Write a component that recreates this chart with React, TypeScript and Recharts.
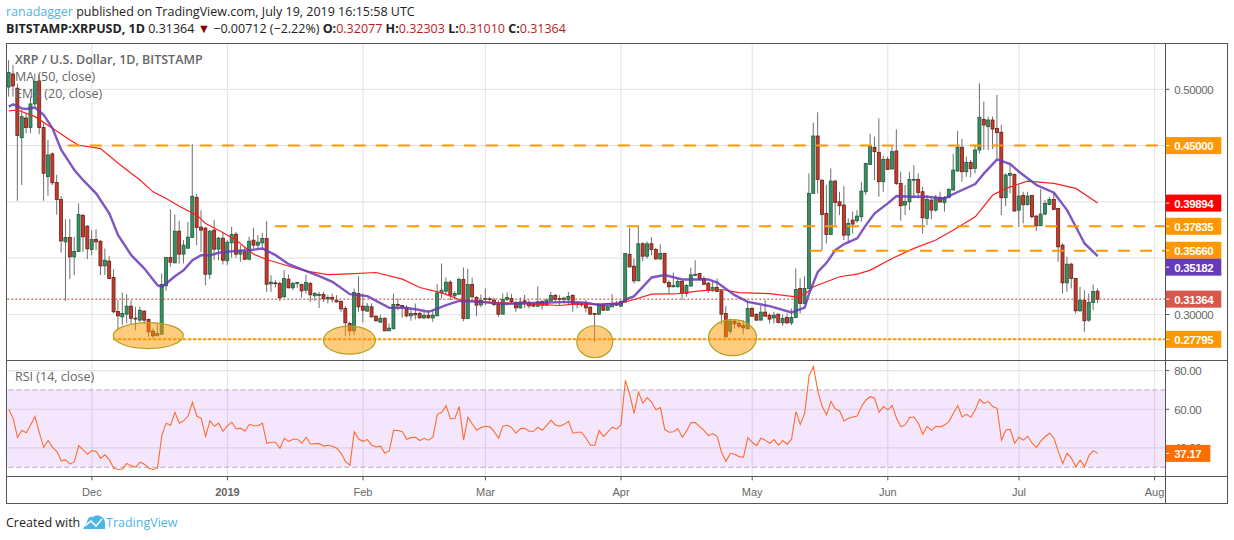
import {
  ComposedChart,
  Bar,
  Line,
  XAxis,
  YAxis,
  CartesianGrid,
  ReferenceLine,
  ReferenceArea,
  ReferenceDot,
} from "recharts";

// candle values, one per day from 12 Nov 2018 to 19 Jul 2019
const OPENS = [
  0.502,0.5136,0.501,0.457,0.4745,0.466,0.487,0.5074,0.466,0.4224,
  0.4426,0.4172,0.4021,0.3645,0.3684,0.3512,0.356,0.388,0.3784,0.3577,
  0.3666,0.3651,0.3432,0.3474,0.3329,0.3027,0.2979,0.3003,0.3074,0.2967,
  0.295,0.303,0.2956,0.2852,0.2811,0.2825,0.3255,0.3506,0.3459,0.374,
  0.3536,0.3589,0.3684,0.4039,0.3776,0.3767,0.3358,0.3749,0.358,0.3678,
  0.3477,0.3636,0.3713,0.3536,0.3556,0.3491,0.366,0.3616,0.3636,0.3675,
  0.3272,0.3281,0.3275,0.3157,0.3314,0.3237,0.3275,0.3266,0.3216,0.3275,
  0.3166,0.3175,0.3178,0.3139,0.3151,0.3127,0.3115,0.3053,0.292,0.2855,
  0.3186,0.3074,0.303,0.3068,0.2985,0.2932,0.2967,0.2855,0.2873,0.3089,
  0.308,0.3062,0.2988,0.3009,0.3009,0.297,0.2994,0.297,0.2988,0.3192,
  0.3207,0.3287,0.3166,0.318,0.331,0.2964,0.3266,0.3151,0.3086,0.3133,
  0.3139,0.3127,0.3092,0.3003,0.3133,0.3142,0.3107,0.3059,0.3121,0.3107,
  0.3089,0.3074,0.3115,0.3083,0.3121,0.3169,0.3142,0.3133,0.3133,0.3169,
  0.3089,0.3095,0.3095,0.3065,0.3009,0.3003,0.3083,0.3038,0.3068,0.3098,
  0.3074,0.3112,0.3533,0.3429,0.3299,0.3628,0.3518,0.3628,0.3577,0.3494,
  0.3542,0.3284,0.3246,0.3246,0.3293,0.3186,0.3252,0.3349,0.3364,0.332,
  0.3278,0.3216,0.324,0.321,0.3009,0.2852,0.2941,0.292,0.2905,0.2873,
  0.3053,0.3003,0.295,0.3021,0.2994,0.297,0.3003,0.2926,0.2973,0.2926,
  0.2973,0.3231,0.3098,0.3231,0.4076,0.4585,0.4194,0.3898,0.3711,0.4185,
  0.4001,0.3972,0.3705,0.3838,0.3833,0.3868,0.409,0.4333,0.4484,0.444,
  0.4179,0.4378,0.4292,0.4452,0.4164,0.3972,0.4001,0.4197,0.42,0.409,
  0.3853,0.4016,0.3927,0.4034,0.3993,0.404,0.4105,0.4274,0.4485,0.4268,
  0.4351,0.4298,0.4461,0.4733,0.4668,0.4727,0.4653,0.4618,0.4037,0.4236,
  0.4244,0.3927,0.4058,0.3978,0.4058,0.3874,0.3788,0.3892,0.3978,0.4022,
  0.3942,0.3616,0.3281,0.3447,0.332,0.3033,0.3127,0.295,0.3107,0.32077,
];
const HIGHS = [
  0.526,0.5216,0.505,0.482,0.479,0.4935,0.514,0.513,0.47,0.455,
  0.444,0.424,0.405,0.3847,0.3847,0.369,0.3986,0.3897,0.3793,0.3749,
  0.3758,0.366,0.3586,0.3518,0.3403,0.3127,0.3195,0.3181,0.3127,0.3068,
  0.3068,0.3038,0.2964,0.2876,0.292,0.3364,0.3506,0.3935,0.3888,0.3832,
  0.366,0.3823,0.4513,0.4069,0.3926,0.3778,0.3749,0.3838,0.369,0.3734,
  0.366,0.3778,0.3734,0.3616,0.36,0.369,0.377,0.3705,0.3725,0.3829,
  0.3349,0.3305,0.329,0.3394,0.3355,0.329,0.329,0.3275,0.3355,0.329,
  0.3201,0.3201,0.3201,0.3172,0.3186,0.3172,0.3127,0.3074,0.2935,0.3231,
  0.334,0.3186,0.3104,0.3098,0.2994,0.2997,0.2973,0.292,0.3186,0.3142,
  0.3083,0.3083,0.3053,0.3098,0.3024,0.3024,0.3038,0.3038,0.3269,0.3453,
  0.3329,0.3305,0.3207,0.3329,0.3417,0.3405,0.3329,0.3163,0.3178,0.3231,
  0.3157,0.3151,0.3127,0.3186,0.3195,0.3181,0.3121,0.3151,0.3174,0.3127,
  0.3112,0.3249,0.3127,0.3142,0.3201,0.3186,0.3172,0.3157,0.3201,0.3181,
  0.3112,0.3112,0.3127,0.3074,0.3015,0.3098,0.3098,0.3083,0.3181,0.3121,
  0.3127,0.3542,0.377,0.3497,0.3784,0.3642,0.3648,0.3687,0.3592,0.3624,
  0.3548,0.3305,0.3373,0.332,0.3305,0.3269,0.3417,0.3482,0.337,0.334,
  0.329,0.329,0.332,0.3216,0.3074,0.2964,0.2956,0.295,0.295,0.3112,
  0.3068,0.3009,0.3077,0.3127,0.3009,0.3024,0.3009,0.3,0.3009,0.3053,
  0.3409,0.332,0.3341,0.4253,0.4704,0.4796,0.4194,0.415,0.4298,0.4194,
  0.409,0.4141,0.3853,0.3913,0.3927,0.4179,0.4348,0.4603,0.4579,0.4742,
  0.4408,0.4401,0.449,0.4645,0.4268,0.4149,0.4268,0.4327,0.4253,0.4135,
  0.4061,0.4031,0.4061,0.409,0.4052,0.4123,0.4425,0.463,0.4559,0.4401,
  0.4372,0.4505,0.5053,0.489,0.4757,0.4757,0.495,0.4683,0.4253,0.434,
  0.4253,0.415,0.409,0.409,0.4061,0.3883,0.4114,0.4016,0.4046,0.4081,
  0.3948,0.3631,0.3513,0.3459,0.332,0.3246,0.3216,0.3187,0.3267,0.32303,
];
const LOWS = [
  0.4935,0.4935,0.401,0.415,0.461,0.461,0.4846,0.46,0.401,0.4055,
  0.415,0.3888,0.3548,0.3121,0.3314,0.335,0.356,0.3556,0.3491,0.3527,
  0.3571,0.335,0.335,0.332,0.3009,0.2861,0.2905,0.292,0.2914,0.2861,
  0.2935,0.2914,0.2802,0.2787,0.2811,0.2825,0.321,0.3423,0.3453,0.3453,
  0.3453,0.3583,0.3684,0.3616,0.3556,0.326,0.3314,0.3482,0.3482,0.3444,
  0.3438,0.3506,0.3506,0.3468,0.3482,0.3482,0.3586,0.3586,0.3571,0.3201,
  0.3201,0.324,0.3121,0.3151,0.3231,0.3216,0.3237,0.3151,0.3186,0.3112,
  0.3121,0.3059,0.3112,0.3098,0.3107,0.3107,0.3024,0.2808,0.2808,0.2816,
  0.3024,0.2929,0.3024,0.2973,0.2938,0.2926,0.2852,0.2855,0.2873,0.3038,
  0.2973,0.2973,0.2944,0.2956,0.2964,0.2956,0.2964,0.2935,0.2988,0.3142,
  0.3172,0.3127,0.3133,0.3172,0.2941,0.2964,0.3151,0.2988,0.3065,0.3083,
  0.3118,0.3074,0.2979,0.3003,0.3121,0.3104,0.3024,0.3053,0.3059,0.3053,
  0.3068,0.3068,0.3044,0.3074,0.3121,0.3118,0.3083,0.3098,0.3083,0.3024,
  0.3053,0.3068,0.3018,0.2994,0.2757,0.2994,0.303,0.3038,0.3068,0.3074,
  0.3068,0.3104,0.3417,0.3275,0.3299,0.3476,0.3497,0.3527,0.3482,0.3482,
  0.3275,0.3186,0.324,0.324,0.3133,0.3157,0.3252,0.3343,0.3305,0.326,
  0.3192,0.3201,0.3201,0.2914,0.2802,0.2825,0.2876,0.2876,0.2825,0.2873,
  0.2979,0.2944,0.295,0.2985,0.292,0.292,0.292,0.29,0.2915,0.2905,
  0.2973,0.3009,0.3098,0.3231,0.4076,0.4076,0.3572,0.3631,0.3705,0.3794,
  0.3883,0.3661,0.3631,0.372,0.3815,0.3824,0.4061,0.4327,0.4194,0.4046,
  0.409,0.4283,0.4292,0.415,0.3833,0.3883,0.3927,0.4031,0.4031,0.372,
  0.3794,0.3844,0.3913,0.3993,0.3913,0.4031,0.4105,0.4268,0.4179,0.4224,
  0.4218,0.4253,0.4431,0.4461,0.4461,0.447,0.4387,0.3883,0.3963,0.4076,
  0.3913,0.3779,0.3809,0.3966,0.3853,0.3741,0.3788,0.3883,0.3972,0.3927,
  0.3468,0.3187,0.3201,0.3231,0.3009,0.3024,0.2846,0.2935,0.3039,0.3101,
];
const CLOSES = [
  0.515,0.503,0.459,0.4757,0.466,0.487,0.507,0.466,0.4254,0.4417,
  0.417,0.4021,0.3654,0.3684,0.3512,0.356,0.3888,0.369,0.3583,0.3666,
  0.3645,0.3432,0.3482,0.332,0.3024,0.2988,0.3009,0.3074,0.2967,0.2961,
  0.3038,0.295,0.2846,0.2811,0.2831,0.3266,0.3506,0.3465,0.374,0.3536,
  0.3616,0.3687,0.4051,0.3773,0.3749,0.3358,0.374,0.358,0.3678,0.3482,
  0.3642,0.371,0.3536,0.3571,0.3491,0.3651,0.3616,0.3642,0.3675,0.3269,
  0.3287,0.3275,0.3148,0.332,0.3237,0.3275,0.3284,0.321,0.3284,0.3175,
  0.3186,0.3177,0.3139,0.3151,0.3136,0.3112,0.305,0.2926,0.2855,0.3195,
  0.3068,0.3038,0.3074,0.2979,0.2944,0.2967,0.2855,0.2879,0.3089,0.3086,
  0.3062,0.2988,0.3009,0.2997,0.297,0.2991,0.297,0.2994,0.3192,0.3216,
  0.3287,0.3172,0.3186,0.331,0.2964,0.3266,0.3157,0.3083,0.3127,0.3142,
  0.3133,0.3089,0.3003,0.3133,0.3151,0.3112,0.3059,0.3112,0.3107,0.3077,
  0.3074,0.3112,0.3083,0.3127,0.3169,0.3133,0.3133,0.3145,0.316,0.3089,
  0.3101,0.3086,0.3059,0.3003,0.3003,0.3092,0.3038,0.3074,0.3098,0.3083,
  0.3115,0.3542,0.3423,0.3299,0.3628,0.3518,0.3628,0.3577,0.3494,0.3542,
  0.3284,0.3246,0.3258,0.3293,0.3186,0.3258,0.3352,0.3355,0.3314,0.3269,
  0.3216,0.324,0.3204,0.3003,0.2802,0.2941,0.2917,0.2896,0.2882,0.3053,
  0.2985,0.295,0.3021,0.2985,0.2959,0.2994,0.2929,0.2964,0.2926,0.2973,
  0.3222,0.3098,0.3231,0.4076,0.4585,0.42,0.3889,0.3711,0.4185,0.3996,
  0.3966,0.3705,0.3809,0.3803,0.3874,0.4096,0.4342,0.4496,0.4446,0.4179,
  0.4378,0.4289,0.4446,0.4164,0.3966,0.4004,0.42,0.42,0.4084,0.3859,
  0.4022,0.3927,0.4034,0.3999,0.404,0.4111,0.4283,0.4485,0.4268,0.4351,
  0.4295,0.4461,0.4751,0.4683,0.4727,0.4647,0.4615,0.4037,0.4239,0.4253,
  0.3919,0.4052,0.3975,0.4052,0.3868,0.3788,0.3892,0.3987,0.4022,0.3933,
  0.3601,0.3281,0.3447,0.332,0.3033,0.3127,0.2944,0.3107,0.3204,0.31364,
];

// MA 50 and EMA 20, read at the bends of each line (candle number, value)
const MA_AT = [0,2,6,10,14,16,21,25,30,33,36,39,43,45,48,52,56,59,65,68,73,78,84,90,94,99,103,108,113,120,126,129,135,140,143,147,153,158,163,167,174,180,182,184,190,194,197,202,207,212,216,221,225,228,233,239,244,249];
const MA_VALUES = [0.4808,0.4816,0.4757,0.4654,0.455,0.4503,0.4473,0.4343,0.4195,0.4089,0.403,0.3962,0.3882,0.3808,0.3749,0.366,0.3536,0.3488,0.3417,0.3385,0.3355,0.3361,0.3373,0.3314,0.324,0.3192,0.3133,0.3112,0.3104,0.3092,0.308,0.3092,0.3092,0.3104,0.3133,0.3181,0.3186,0.321,0.3222,0.3195,0.3186,0.3157,0.318,0.3246,0.3335,0.3359,0.3394,0.3498,0.3587,0.3661,0.375,0.3868,0.4061,0.412,0.4185,0.4164,0.412,0.39894];
const EMA_AT = [0,1,3,4,6,8,10,12,15,17,20,23,25,28,31,34,35,36,38,40,42,44,46,48,52,55,58,61,64,67,71,74,78,82,87,90,93,96,98,100,103,108,113,116,122,128,132,135,140,141,143,147,150,154,160,162,166,169,174,179,182,183,185,187,189,191,194,196,198,201,203,206,210,214,216,221,223,226,229,231,235,239,242,244,246,249];
const EMA_VALUES = [0.4846,0.4867,0.4831,0.4825,0.4837,0.4772,0.4654,0.4461,0.4284,0.4193,0.4074,0.3897,0.3704,0.3527,0.3408,0.326,0.3246,0.3275,0.334,0.3394,0.3482,0.3527,0.3524,0.3548,0.3565,0.3571,0.3586,0.3527,0.3447,0.34,0.334,0.329,0.3181,0.3163,0.3059,0.3062,0.3047,0.3024,0.3053,0.3083,0.3121,0.3112,0.3092,0.3098,0.3104,0.3112,0.3104,0.3083,0.3098,0.3133,0.3163,0.3329,0.335,0.3311,0.3311,0.3284,0.3172,0.3112,0.3074,0.3018,0.3062,0.3187,0.3379,0.3459,0.3572,0.3625,0.3676,0.3794,0.3898,0.3987,0.4052,0.4046,0.4046,0.4031,0.407,0.4159,0.4253,0.4378,0.4336,0.4268,0.415,0.4082,0.3927,0.3779,0.3631,0.35182];

const RSI_VALUES = [
  60.0,55.3,45.5,49.0,47.8,51.9,56.2,47.6,40.3,43.8,
  40.3,38.1,33.3,33.8,31.6,32.9,41.2,39.0,36.7,38.6,
  38.1,34.6,36.4,33.8,29.5,28.8,29.1,32.0,30.7,30.0,
  32.6,31.6,29.5,28.8,29.5,46.4,52.8,51.7,58.4,52.8,
  54.1,56.5,63.6,56.5,55.3,46.0,54.1,51.2,52.8,48.6,
  51.5,53.3,49.8,50.2,48.6,52.2,51.5,51.5,52.8,42.4,
  42.9,42.9,39.8,45.0,43.4,44.5,44.5,42.4,45.5,41.9,
  42.2,42.2,40.9,41.4,40.9,39.8,37.2,32.9,31.0,48.4,
  44.6,43.4,44.3,41.4,40.5,40.9,37.2,38.4,49.1,49.0,
  48.4,44.5,45.3,45.5,43.8,45.0,44.0,45.7,57.4,58.4,
  61.9,55.0,55.3,61.4,44.0,55.9,52.4,49.1,50.5,51.2,
  50.9,48.4,45.0,51.4,51.7,50.5,47.6,50.0,50.2,48.6,
  48.6,50.7,49.1,51.7,54.3,51.9,51.2,52.2,53.8,47.6,
  48.1,48.1,45.0,41.4,41.4,49.0,46.0,48.3,50.7,49.7,
  52.1,75.0,67.4,57.9,68.8,63.1,66.0,63.6,59.7,60.9,
  49.5,48.1,48.4,50.0,45.5,48.8,53.1,53.1,51.0,49.0,
  46.4,47.4,45.9,37.6,33.1,37.2,36.7,35.5,35.2,45.3,
  42.9,41.2,45.0,44.0,42.4,44.3,41.4,43.8,41.9,44.5,
  58.8,52.2,57.9,77.4,82.1,69.5,61.4,57.1,64.0,60.2,
  59.1,54.0,55.3,56.0,56.5,61.4,64.8,66.5,65.7,58.4,
  61.4,59.7,61.9,55.3,50.9,51.9,55.7,56.0,52.8,47.1,
  51.2,49.1,51.2,50.9,51.9,53.6,57.9,61.9,56.0,57.4,
  55.9,59.7,65.2,63.1,64.0,61.4,60.5,44.0,49.3,49.7,
  42.4,45.5,44.0,46.0,42.4,40.3,43.6,45.9,47.6,45.0,
  38.1,31.9,37.2,34.6,30.3,33.6,30.3,36.0,38.6,37.17,
];

// days counted from 1 Dec 2018, so the first candle is day -19
const FIRST_DAY = -19;
const MONTH_DAYS = [0, 31, 62, 90, 121, 151, 182, 212, 243];
const MONTH_LABELS = ["Dec", "2019", "Feb", "Mar", "Apr", "May", "Jun", "Jul", "Aug"];

const PRICE_GRID = [0.5, 0.45, 0.4, 0.35, 0.3];
const PRICE_TICKS = [0.5, 0.45, 0.39894, 0.37835, 0.3566, 0.35182, 0.31364, 0.3, 0.27795];
const LAST_PRICE = 0.31364;

const DASHED_LEVELS = [0.45, 0.37835, 0.3566];
const DASHED_LEVEL_START = [-5.5, 41.9, 164.2];
const SUPPORT_LEVEL = 0.27795;
const SUPPORT_START = 4.8;

const CIRCLE_DAYS = [12.9, 58.9, 115, 146.5];
const CIRCLE_PRICES = [0.2813, 0.2772, 0.2758, 0.2794];

const RSI_TICKS = [80, 60, 40, 37.17];
const RSI_GRID = [80, 60, 40];

const X_DOMAIN = [-19.41, 245.46];
const PRICE_DOMAIN = [0.2596, 0.5411];
const RSI_DOMAIN = [25.3, 85.5];

const CIRCLE_RADII = [[35, 13], [26, 14], [18, 16], [24, 18]];

const BADGES: Record<string, { fill: string; dy?: number }> = {
  "0.45": { fill: "#ff9800" },
  "0.39894": { fill: "#ff0000" },
  "0.37835": { fill: "#ff9800" },
  "0.3566": { fill: "#ff9800", dy: -0.5 },
  "0.35182": { fill: "#673ab7", dy: 11 },
  "0.31364": { fill: "#d9574a" },
  "0.27795": { fill: "#ff9800" },
};

const FONT = "'Open Sans', sans-serif";
const AXIS_FONT = "'Liberation Sans', Arial, sans-serif";

const asRow = (list: number[], at: number[], i: number) => {
  const k = at.indexOf(i);
  return k < 0 ? null : list[k];
};

const rows = OPENS.map((open, i) => ({
  day: FIRST_DAY + i,
  open,
  close: CLOSES[i],
  high: HIGHS[i],
  low: LOWS[i],
  range: [LOWS[i], HIGHS[i]],
  ma: asRow(MA_VALUES, MA_AT, i),
  ema: asRow(EMA_VALUES, EMA_AT, i),
  rsi: RSI_VALUES[i],
}));

function Candle(props: any) {
  const { x, y, width, height, payload } = props;
  if (!payload || !height) return null;
  const perUnit = height / (payload.high - payload.low);
  const top = y + (payload.high - Math.max(payload.open, payload.close)) * perUnit;
  const bottom = y + (payload.high - Math.min(payload.open, payload.close)) * perUnit;
  const up = payload.close >= payload.open;
  const mid = x + width / 2;
  return (
    <g>
      <line x1={mid} x2={mid} y1={y} y2={y + height} stroke="#6f6f6f" strokeWidth={1} />
      <rect
        x={x + 0.5}
        y={top}
        width={width - 1}
        height={Math.max(bottom - top, 0.8)}
        fill={up ? "#3b8f65" : "#c43c2c"}
        stroke={up ? "#1e5c3d" : "#6e1c12"}
        strokeWidth={0.8}
      />
    </g>
  );
}

function PriceTick(props: any) {
  const { x, y, payload } = props;
  const value = payload.value;
  const badge = BADGES[String(value)];
  const label = value.toFixed(5);
  if (!badge) {
    return (
      <g>
        <line x1={x} x2={x + 4} y1={y} y2={y} stroke="#555" />
        <text x={x + 9} y={y + 4.5} fontFamily={AXIS_FONT} fontSize={11.5} letterSpacing={-0.35} fill="#666">
          {label}
        </text>
      </g>
    );
  }
  const cy = y + (badge.dy ?? 0);
  return (
    <g>
      <rect x={x} y={cy - 8.5} width={56} height={17} fill={badge.fill} />
      <line x1={x} x2={x + 4} y1={cy} y2={cy} stroke="#fff" />
      <text x={x + 9} y={cy + 4.5} fontFamily={AXIS_FONT} fontSize={11.5} fontWeight={700} letterSpacing={-0.35} fill="#fff">
        {label}
      </text>
    </g>
  );
}

function RsiTick(props: any) {
  const { x, y, payload } = props;
  const value = payload.value;
  if (value === 37.17) {
    return (
      <g>
        <rect x={x} y={y - 8.5} width={45} height={17} fill="#ff6d00" />
        <line x1={x} x2={x + 4} y1={y} y2={y} stroke="#fff" />
        <text x={x + 9} y={y + 4.5} fontFamily={AXIS_FONT} fontSize={11.5} fontWeight={700} letterSpacing={-0.35} fill="#fff">
          {value.toFixed(2)}
        </text>
      </g>
    );
  }
  return (
    <g>
      <line x1={x} x2={x + 4} y1={y} y2={y} stroke="#555" />
      <text x={x + 9} y={y + 4.5} fontFamily={AXIS_FONT} fontSize={11.5} letterSpacing={-0.35} fill="#666">
        {value.toFixed(2)}
      </text>
    </g>
  );
}

function MonthTick(props: any) {
  const { x, y, payload } = props;
  const label = MONTH_LABELS[MONTH_DAYS.indexOf(payload.value)];
  return (
    <text
      x={x}
      y={y + 14}
      textAnchor="middle"
      fontFamily={AXIS_FONT}
      fontSize={11}
      fontWeight={label === "2019" ? 700 : 400}
      fill="#666"
    >
      {label}
    </text>
  );
}

const line = (left: number, top: number, width: number, height: number) => (
  <div
    key={`${left}-${top}`}
    style={{ position: "absolute", left, top, width, height, background: "#555" }}
  />
);

const legendText = (text: string, top: number, bold = false) => (
  <div
    style={{
      position: "absolute",
      left: 15,
      top,
      fontFamily: FONT,
      fontSize: 12.5,
      lineHeight: "16px",
      fontWeight: bold ? 600 : 400,
      color: "#666",
      whiteSpace: "nowrap",
    }}
  >
    {text}
  </div>
);

export default function App() {
  return (
    <div style={{ position: "absolute", left: 0, top: 0, width: 1234, height: 540, background: "#fff", overflow: "hidden" }}>
      <div style={{ position: "absolute", left: 6, top: 4, fontFamily: FONT, fontSize: 12.5, lineHeight: "16px", color: "#222", whiteSpace: "nowrap" }}>
        <span style={{ color: "#4fb3e8" }}>ranadagger</span> published on TradingView.com, July 19, 2019 16:15:58 UTC
      </div>
      <div style={{ position: "absolute", left: 6, top: 21, fontFamily: FONT, fontSize: 12.5, lineHeight: "16px", color: "#222", whiteSpace: "nowrap" }}>
        <b>BITSTAMP:XRPUSD, 1D</b> 0.31364 <span style={{ color: "#8b0000" }}>▼</span> −0.00712 (−2.22%){" "}
        <b>O:</b><span style={{ color: "#b71c1c" }}>0.32077</span> <b>H:</b><span style={{ color: "#b71c1c" }}>0.32303</span>{" "}
        <b>L:</b><span style={{ color: "#b71c1c" }}>0.31010</span> <b>C:</b><span style={{ color: "#b71c1c" }}>0.31364</span>
      </div>

      <div style={{ position: "absolute", left: 0, top: 0 }}>
        <ComposedChart width={1234} height={360} data={rows} margin={{ top: 43, right: 0, bottom: 0, left: 7 }}>
          <CartesianGrid stroke="#e6e6e6" strokeWidth={1.2} horizontalValues={PRICE_GRID} verticalValues={MONTH_DAYS} />
          <XAxis dataKey="day" type="number" scale="linear" domain={X_DOMAIN} allowDataOverflow hide ticks={MONTH_DAYS} />
          <YAxis
            orientation="right"
            type="number"
            domain={PRICE_DOMAIN}
            allowDataOverflow
            width={68.7}
            ticks={PRICE_TICKS}
            interval={0}
            tick={PriceTick}
            tickSize={0}
            tickMargin={0}
            tickLine={false}
            axisLine={false}
          />
          <Bar dataKey="range" barSize={4} shape={Candle} isAnimationActive={false} />
          <Line dataKey="ma" connectNulls dot={false} stroke="#ff1f1f" strokeWidth={1.2} isAnimationActive={false} />
          <Line dataKey="ema" connectNulls dot={false} stroke="#673ab7" strokeWidth={2.4} strokeOpacity={0.85} isAnimationActive={false} />
          <ReferenceLine y={LAST_PRICE} stroke="#c0392b" strokeDasharray="2 2" />
          {DASHED_LEVELS.map((level, i) => (
            <ReferenceLine
              key={level}
              segment={[{ x: DASHED_LEVEL_START[i], y: level }, { x: X_DOMAIN[1], y: level }]}
              stroke="#ff9800"
              strokeWidth={2}
              strokeDasharray="12 10"
            />
          ))}
          <ReferenceLine
            segment={[{ x: SUPPORT_START, y: SUPPORT_LEVEL }, { x: X_DOMAIN[1], y: SUPPORT_LEVEL }]}
            stroke="#ff9800"
            strokeWidth={2}
            strokeDasharray="3.5 1.5"
          />
          {CIRCLE_DAYS.map((day, i) => (
            <ReferenceDot
              key={day}
              x={day}
              y={CIRCLE_PRICES[i]}
              r={1}
              shape={(p: any) => (
                <ellipse
                  cx={p.cx}
                  cy={p.cy}
                  rx={CIRCLE_RADII[i][0]}
                  ry={CIRCLE_RADII[i][1]}
                  fill="#ff9800"
                  fillOpacity={0.5}
                  stroke="#b5a022"
                  strokeWidth={1.2}
                />
              )}
            />
          ))}
        </ComposedChart>
      </div>

      <div style={{ position: "absolute", left: 0, top: 360 }}>
        <ComposedChart width={1234} height={143} data={rows} margin={{ top: 0, right: 0, bottom: 0, left: 7 }}>
          <CartesianGrid stroke="#e6e6e6" strokeWidth={1.2} horizontalValues={RSI_GRID} verticalValues={MONTH_DAYS} />
          <XAxis
            dataKey="day"
            type="number"
            scale="linear"
            domain={X_DOMAIN}
            allowDataOverflow
            ticks={MONTH_DAYS}
            interval={0}
            height={26.7}
            tick={MonthTick}
            tickSize={4}
            tickLine={{ stroke: "#555" }}
            axisLine={false}
          />
          <YAxis
            orientation="right"
            type="number"
            domain={RSI_DOMAIN}
            allowDataOverflow
            width={68.7}
            ticks={RSI_TICKS}
            interval={0}
            tick={RsiTick}
            tickSize={0}
            tickMargin={0}
            tickLine={false}
            axisLine={false}
          />
          <ReferenceArea y1={30} y2={70} fill="#9b1de0" fillOpacity={0.11} stroke="none" />
          <ReferenceLine y={70} stroke="#b8a8b8" strokeDasharray="5 3" />
          <ReferenceLine y={30} stroke="#b8a8b8" strokeDasharray="5 3" />
          <Line dataKey="rsi" dot={false} stroke="#ff6d2e" strokeWidth={1.1} isAnimationActive={false} />
        </ComposedChart>
      </div>

      {legendText("XRP / U.S. Dollar, 1D, BITSTAMP", 52, true)}
      {legendText("MA (50, close)", 69)}
      {legendText("EMA (20, close)", 86)}
      {legendText("RSI (14, close)", 369)}

      {line(6, 43, 1222, 1)}
      {line(6, 503, 1222, 1)}
      {line(6, 43, 1, 461)}
      {line(1227, 43, 1, 461)}
      {line(6, 360, 1222, 1)}
      {line(6, 476, 1222, 1)}
      {line(1165, 43, 1, 461)}

      <div style={{ position: "absolute", left: 6, top: 515, fontFamily: FONT, fontSize: 12.5, lineHeight: "16px", color: "#222", whiteSpace: "nowrap" }}>
        Created with
      </div>
      <svg style={{ position: "absolute", left: 82, top: 514 }} width={24} height={16}>
        <path d="M1 15 L5 8 Q6 2 11 3 Q14 0 18 2 Q23 4 23 9 L23 15 Z" fill="#4db6e8" />
        <path d="M3 12 L9 7 L14 12 L20 5" fill="none" stroke="#fff" strokeWidth={1.6} />
      </svg>
      <div style={{ position: "absolute", left: 106, top: 515, fontFamily: FONT, fontSize: 12.5, lineHeight: "16px", color: "#4db6e8", whiteSpace: "nowrap" }}>
        TradingView
      </div>
    </div>
  );
}
